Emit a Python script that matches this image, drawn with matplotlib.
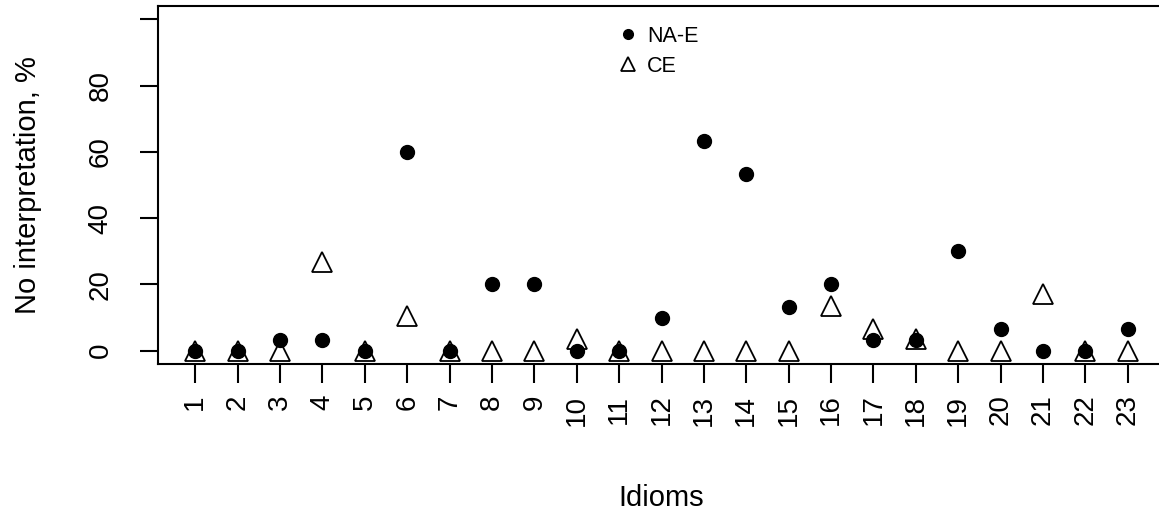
import matplotlib
matplotlib.use("Agg")
import matplotlib.pyplot as plt

# данные
idioms = list(range(1, 24))
na_e = [0, 0, 3.33, 3.33, 0, 60, 0, 20, 20, 0, 0, 10, 63.33, 53.33, 13.33,
        20, 3.33, 3.33, 30, 6.67, 0, 0, 6.67]
ce = [0, 0, 0, 26.9, 0, 10.6, 0, 0, 0, 3.4, 0, 0, 0, 0, 0,
      13.4, 6.7, 3.5, 0, 0, 17.0, 0, 0]
y_ticks = [0, 20, 40, 60, 80, 100]
y_tick_labels = ["0", "20", "40", "60", "80", ""]

plt.rcParams["font.family"] = ["Liberation Sans", "DejaVu Sans"]

fig = plt.figure(figsize=(11.59, 5.16), dpi=100)
ax = fig.add_axes([158 / 1159, (516 - 364) / 516, (1165 - 158) / 1159, (364 - 6) / 516])

ax.plot(idioms, na_e, linestyle="none", marker="o", markersize=10,
        color="black", label="NA-E")
ax.plot(idioms, ce, linestyle="none", marker="^", markersize=15,
        markerfacecolor="none", markeredgecolor="black", markeredgewidth=1.3,
        label="CE")

ax.set_xlim(0.12, 23.88)
ax.set_ylim(-4, 104)
ax.set_xticks(idioms)
ax.set_xticklabels([str(i) for i in idioms], rotation=90)
ax.set_yticks(y_ticks)
ax.set_yticklabels(y_tick_labels, rotation=90, va="center")

for s in ax.spines.values():
    s.set_linewidth(1.5)
ax.tick_params(axis="x", length=14, width=1.5, pad=8, labelsize=20)
ax.tick_params(axis="y", length=13, width=1.5, pad=19, labelsize=20)

ax.set_xlabel("Idioms", fontsize=21)
ax.set_ylabel("No interpretation, %", fontsize=21)
ax.xaxis.set_label_coords(0.5, (364 - 498) / 358)
ax.xaxis.label.set_va("center")
ax.yaxis.set_label_coords((28 - 158) / 1007, 0.5)
ax.yaxis.label.set_va("center")

ax.legend(loc="upper left", bbox_to_anchor=((619 - 158) / 1007, 1 - (26 - 6) / 358),
          frameon=False, fontsize=15.5, markerscale=0.7, handlelength=0.8,
          handletextpad=0.5, labelspacing=0.4, borderaxespad=0, borderpad=0)

fig.savefig("out.png", dpi=100)
